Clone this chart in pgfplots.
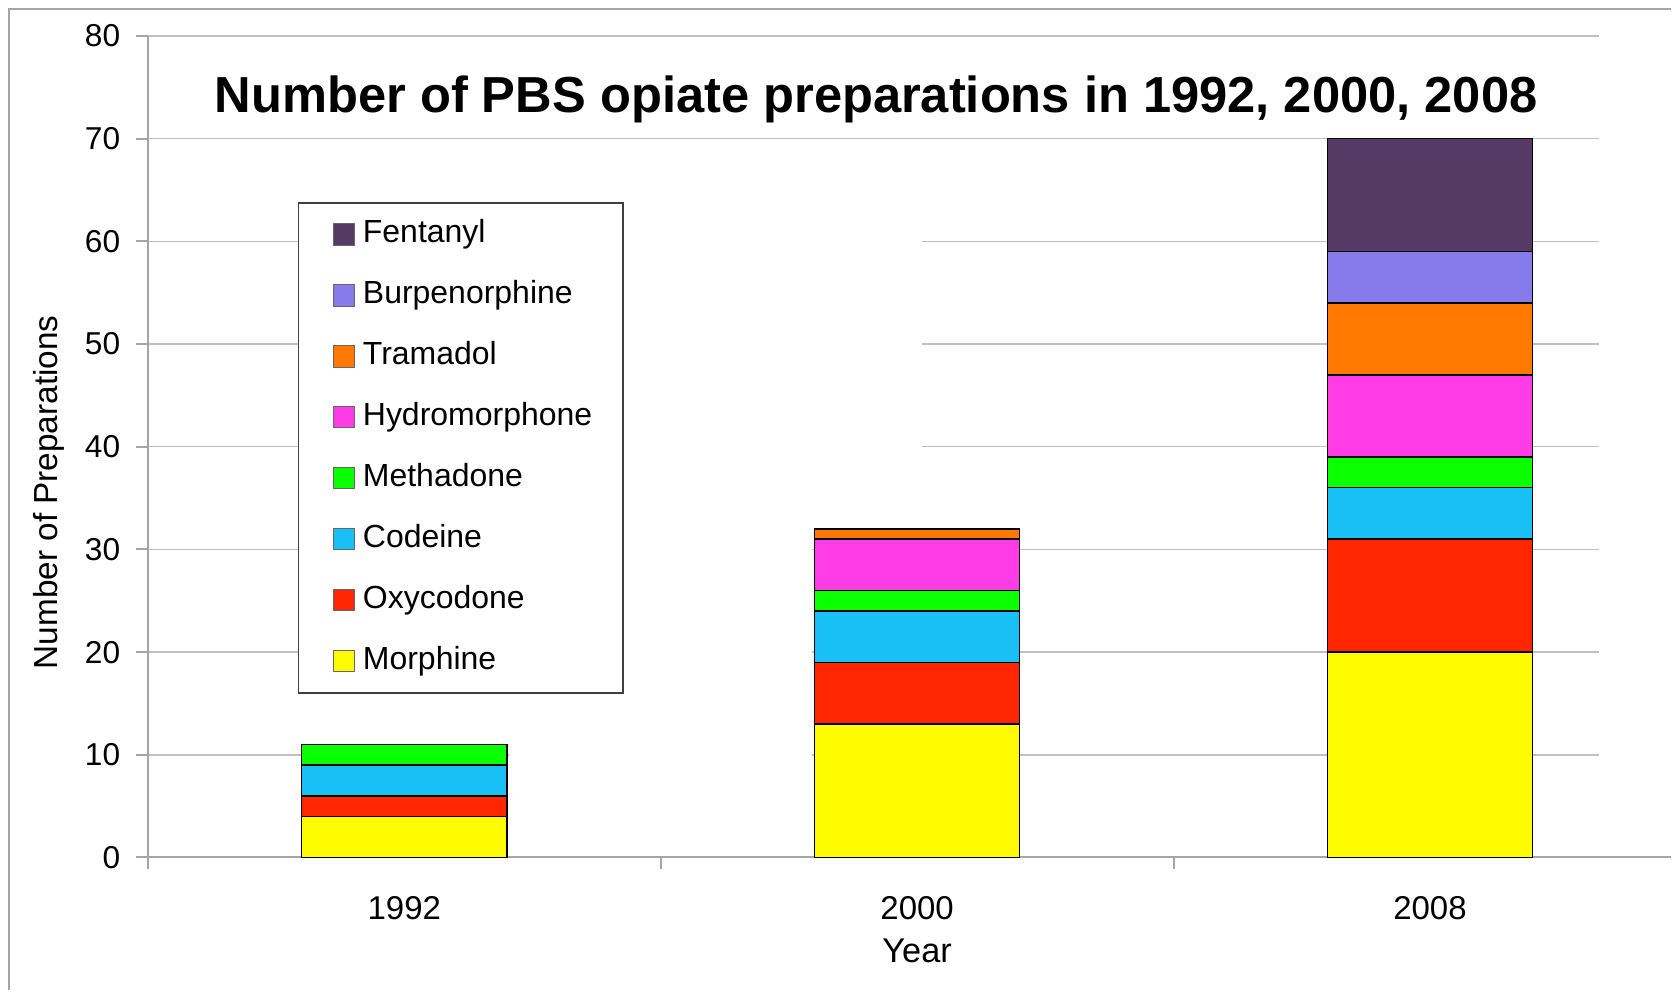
\documentclass[border=0pt]{standalone}
\usepackage{fontspec}
\setmainfont{Liberation Sans}
\usepackage{pgfplots}
\pgfplotsset{compat=1.18}

\definecolor{cMorphine}{RGB}{255,252,0}
\definecolor{cOxycodone}{RGB}{255,38,0}
\definecolor{cCodeine}{RGB}{24,192,245}
\definecolor{cMethadone}{RGB}{10,255,0}
\definecolor{cHydromorphone}{RGB}{255,60,230}
\definecolor{cTramadol}{RGB}{255,120,0}
\definecolor{cBurpenorphine}{RGB}{135,122,235}
\definecolor{cFentanyl}{RGB}{85,58,102}
\definecolor{gridgray}{RGB}{192,192,192}
\definecolor{axisgray}{RGB}{165,165,165}

\begin{document}
\begin{tikzpicture}
% outer frame (left and top edges only)
\draw[axisgray, line width=0.6pt] (2.7pt,0) -- (2.7pt,294.6pt) -- (501.6pt,294.6pt);
\begin{axis}[
    at={(44.4pt,39.9pt)}, anchor=south west,
    scale only axis,
    width=457.2pt, height=246.6pt,
    set layers, clip=false,
    ybar stacked, bar width=0.4,
    xmin=-0.5, xmax=2.47,
    ymin=0, ymax=80,
    axis x line=bottom, axis y line=left,
    axis line style={draw=axisgray, line width=0.6pt, -},
    ytick={0,10,...,80},
    xtick={-0.5,0.5,1.5}, xticklabels={},
    extra x ticks={0,1,2}, extra x tick labels={1992,2000,2008},
    extra x tick style={major tick length=0pt, grid=none},
    tick align=outside, major tick length=3.5pt,
    tick style={draw=axisgray, line width=0.6pt},
    ymajorgrids, grid style={draw=gridgray, line width=0.45pt},
    /pgf/number format/assume math mode=true,
    yticklabel style={font=\fontsize{9.5}{11}\selectfont, xshift=-1.3pt},
    xticklabel style={font=\fontsize{9.9}{11}\selectfont, yshift=-8.1pt},
    ylabel={Number of Preparations}, xlabel={Year},
    ylabel style={font=\fontsize{10}{12}\selectfont,
        at={(axis description cs:-0.065,0.4445)}, anchor=center},
    xlabel style={font=\fontsize{10.3}{12}\selectfont,
        at={(axis description cs:0.505,-0.1136)}, anchor=center},
    every axis plot/.append style={draw=black, line width=0.4pt,
        legend image code/.code={%
            \path[draw=none, fill=none] (0pt,0pt) -- (10pt,0pt);
            \draw[##1, draw=black!60, line width=0.3pt] (3.2pt,-3.2pt) rectangle (9.4pt,3.2pt);}},
    reverse legend,
    legend cell align=left,
    legend style={at={(0.0984,0.798)}, anchor=north west,
        draw=black!75, line width=0.5pt,
        font=\fontsize{9.6}{11}\selectfont,
        inner xsep=7.3pt, inner ysep=3pt, row sep=5.3pt,
        nodes={inner sep=2pt, text height=7pt, text depth=2pt}},
]
% gaps in the grid as in the original figure (kept clear of the bars)
\fill[white] (axis cs:0.205,5) rectangle (axis cs:0.795,65);
\fill[white] (axis cs:0.79,33) rectangle (axis cs:1.01,65);
\fill[white] (axis cs:2.33,5) rectangle (axis cs:2.47,81);

\addplot[fill=cMorphine] coordinates {(0,4) (1,13) (2,20)};
\addplot[fill=cOxycodone] coordinates {(0,2) (1,6) (2,11)};
\addplot[fill=cCodeine] coordinates {(0,3) (1,5) (2,5)};
\addplot[fill=cMethadone] coordinates {(0,2) (1,2) (2,3)};
\addplot[fill=cHydromorphone] coordinates {(0,0) (1,5) (2,8)};
\addplot[fill=cTramadol] coordinates {(0,0) (1,1) (2,7)};
\addplot[fill=cBurpenorphine] coordinates {(0,0) (1,0) (2,5)};
\addplot[fill=cFentanyl] coordinates {(0,0) (1,0) (2,11)};
\legend{Morphine,Oxycodone,Codeine,Methadone,Hydromorphone,Tramadol,Burpenorphine,Fentanyl}

\node[font=\fontsize{15.2}{18}\selectfont\bfseries] at (axis cs:0.92,73.8)
    {Number of PBS opiate preparations in 1992, 2000, 2008};
\end{axis}
\path (0,0) rectangle (501.6pt,297.3pt);
\end{tikzpicture}
\end{document}
